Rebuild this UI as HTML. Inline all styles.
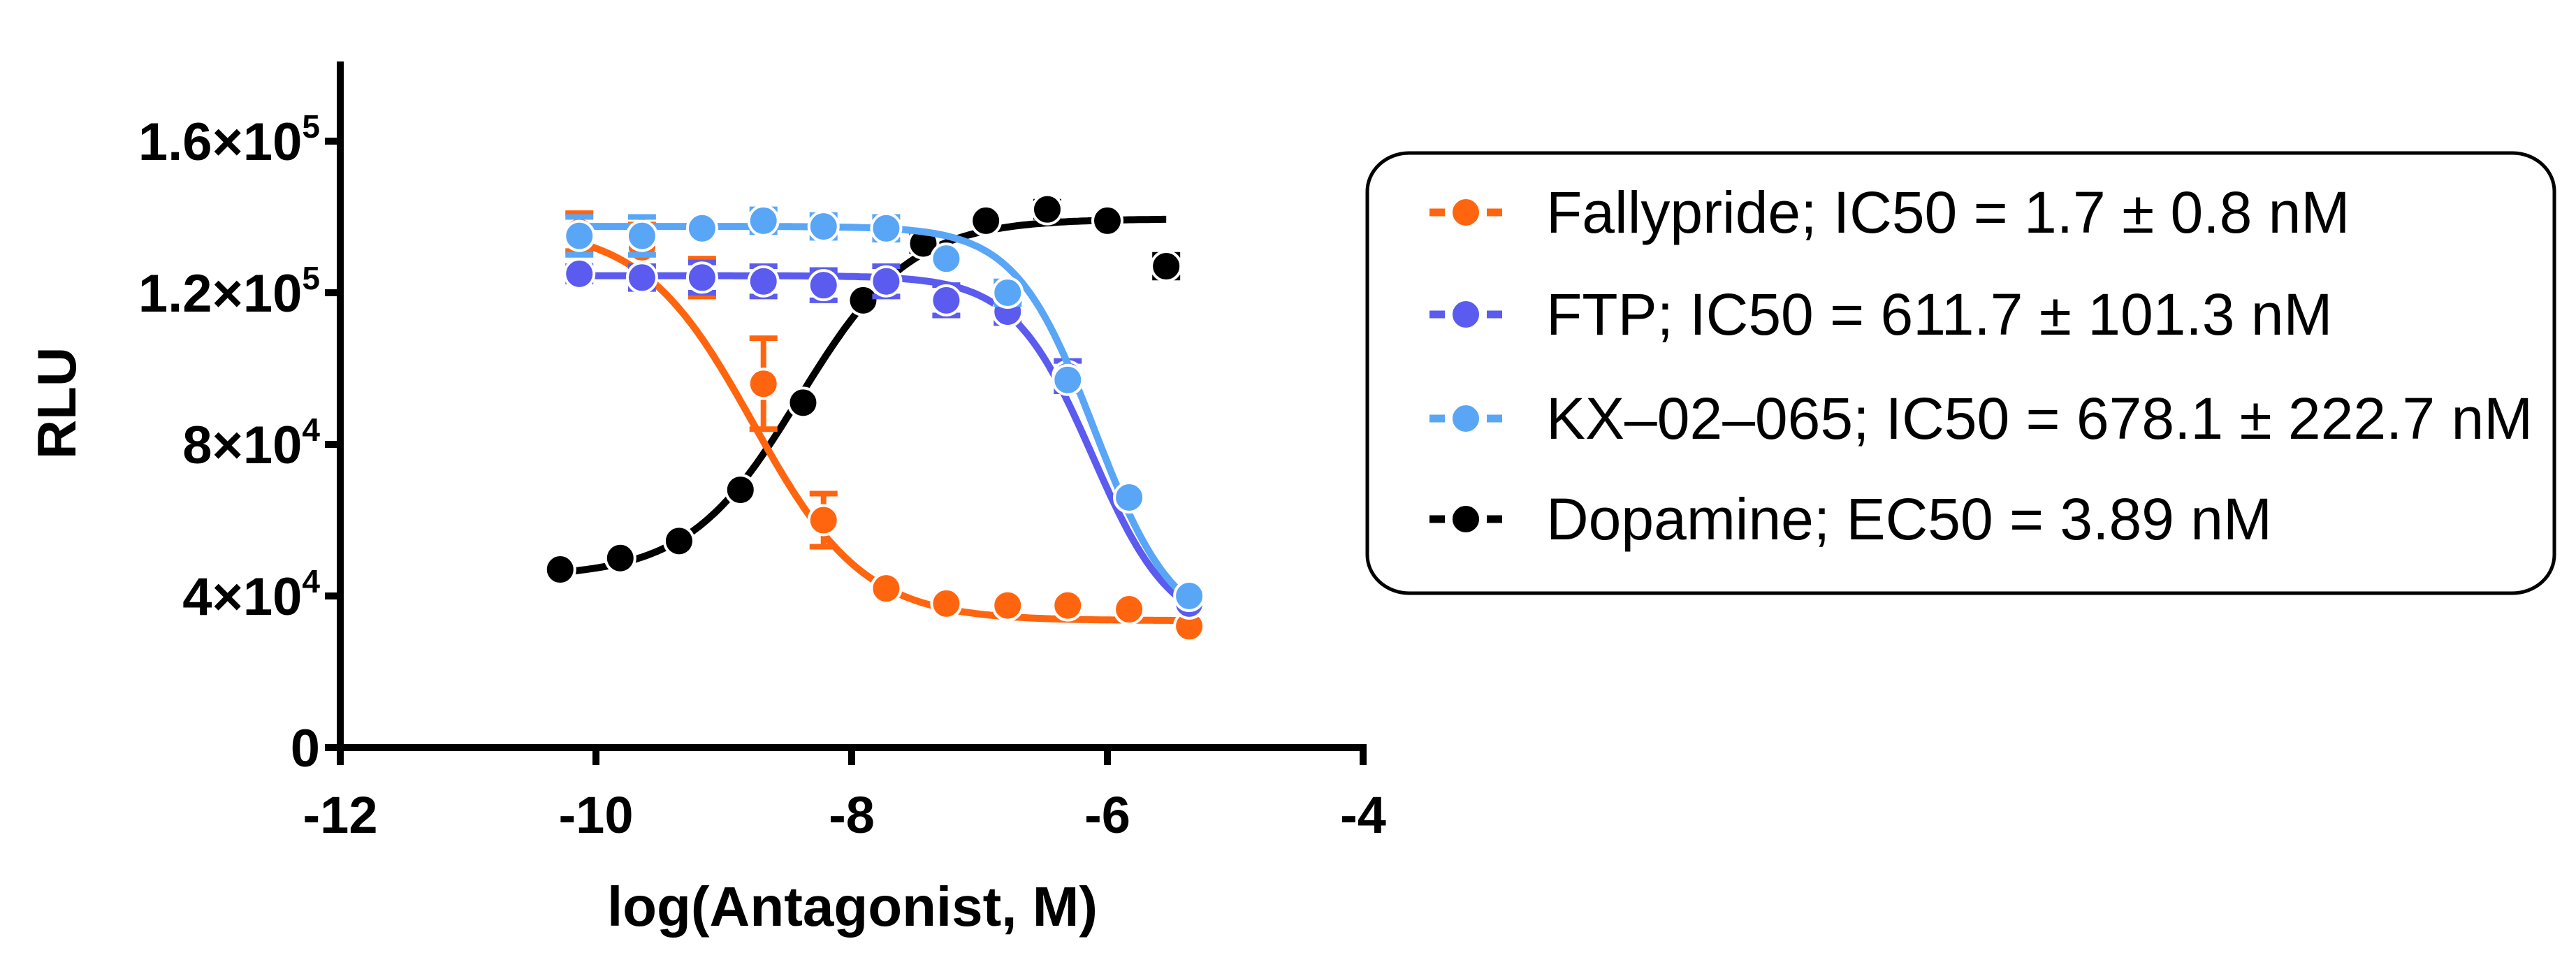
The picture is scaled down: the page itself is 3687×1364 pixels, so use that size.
<!DOCTYPE html>
<html><head><meta charset="utf-8"><style>
html,body{margin:0;padding:0;background:#fff;}
svg{display:block;font-family:"Liberation Sans",sans-serif;}
</style></head><body>
<svg id="chart" width="3687" height="1364" viewBox="0 0 3687 1364">
<g id="plot"></g>
<g id="axes"></g>
<g id="legend"></g>
</svg>
<script>
const xTicks=[-12,-10,-8,-6,-4];
const yTicks=[0,40000,80000,120000,160000];
const yTickLabels=["0","4×10^4","8×10^4","1.2×10^5","1.6×10^5"];
const seriesNames=["Fallypride; IC50 = 1.7 ± 0.8 nM","FTP; IC50 = 611.7 ± 101.3 nM","KX\u201302\u2013065; IC50 = 678.1 ± 222.7 nM","Dopamine; EC50 = 3.89 nM"];
const seriesColors=["#ff650f","#5b5bef","#5aa6f6","#000000"];
const xAnt=[-10.13,-9.64,-9.17,-8.69,-8.22,-7.73,-7.26,-6.78,-6.31,-5.83,-5.36];
const xDop=[-10.28,-9.81,-9.35,-8.87,-8.38,-7.91,-7.44,-6.95,-6.47,-6.0,-5.54];
const fallyY=[136000,132000,124000,96000,60000,42000,38000,37500,37500,36500,32000];
const fallyErr=[5000,6000,5000,12000,7000,0,0,0,0,0,0];
const ftpY=[125000,124000,124000,123000,122000,123000,118000,115000,98000,66000,38000];
const ftpErr=[2000,3000,4000,4000,4000,4000,4000,3000,4000,0,0];
const kxY=[135000,135000,137000,139000,137500,137000,129000,120000,97000,66000,40000];
const kxErr=[5000,5000,0,3000,3000,3000,0,3000,0,0,0];
const dopY=[47000,50000,54500,68000,91000,118000,133000,139000,142000,139000,127000];
const dopErr=[0,0,0,0,0,0,2000,0,2000,0,3000];
// 4PL fit params: bottom, top, logX50, hill
const fitFally=[33500,137500,-8.77,-1.0];
const fitFtp=[30000,124500,-6.12,-1.4];
const fitKx=[30000,137500,-6.10,-1.4];
const fitDop=[45000,139500,-8.41,1.0];

const X=v=>487+(v+12)*183;
const Y=v=>1070-v*(217/40000);
const NS="http://www.w3.org/2000/svg";
function mk(tag,attrs,parent){const e=document.createElementNS(NS,tag);for(const k in attrs)e.setAttribute(k,attrs[k]);parent.appendChild(e);return e;}
const plot=document.getElementById('plot'),axes=document.getElementById('axes'),legend=document.getElementById('legend');
function curve(p,x0,x1){let d="";for(let i=0;i<=200;i++){const x=x0+(x1-x0)*i/200;const y=p[0]+(p[1]-p[0])/(1+Math.pow(10,(p[2]-x)*p[3]));d+=(i?"L":"M")+X(x).toFixed(1)+","+Y(y).toFixed(1);}return d;}
const series=[[xAnt,fallyY,fallyErr,fitFally],[xAnt,ftpY,ftpErr,fitFtp],[xAnt,kxY,kxErr,fitKx],[xDop,dopY,dopErr,fitDop]];
const order=[3,0,1,2];
order.forEach(s=>{
 const [xs,ys,es,fit]=series[s];const c=seriesColors[s];
 const g=mk('g',{},plot);
 
 
 const path=mk('path',{d:curve(fit,xs[0],xs[xs.length-1]),fill:'none',stroke:c,'stroke-width':10},g);
 
 
 xs.forEach((x,i)=>{
  if(es[i]>0){
   const cx=X(x);
   const eb=mk('path',{d:`M${cx},${Y(ys[i]-es[i])}V${Y(ys[i]+es[i])}M${cx-20},${Y(ys[i]-es[i])}H${cx+20}M${cx-20},${Y(ys[i]+es[i])}H${cx+20}`,stroke:c,'stroke-width':8,fill:'none'},g);
   
   
  }
  const pt=mk('circle',{cx:X(x),cy:Y(ys[i]),r:21,fill:c,stroke:'#fff','stroke-width':4},g);
  
  
 });
});
// axes
const ya=mk('line',{x1:487,y1:88,x2:487,y2:1076,stroke:'#000','stroke-width':10},axes);

const xa=mk('line',{x1:468,y1:1070,x2:1956,y2:1070,stroke:'#000','stroke-width':10},axes);

xTicks.forEach(t=>{
 const tk=mk('line',{x1:X(t),y1:1070,x2:X(t),y2:1095,stroke:'#000','stroke-width':10},axes);
 
 const tl=mk('text',{x:X(t),y:1192,'font-size':74,'font-weight':'bold','text-anchor':'middle'},axes);
 tl.textContent=t; 
});
yTicks.forEach((t,i)=>{
 const tk=mk('line',{x1:465,y1:Y(t),x2:487,y2:Y(t),stroke:'#000','stroke-width':10},axes);
 
 const tl=mk('text',{x:458,y:Y(t)+27,'font-size':76,'font-weight':'bold','text-anchor':'end'},axes);
 
 const parts=yTickLabels[i].split('^');
 tl.textContent=parts[0];
 if(parts[1]){const sp=mk('tspan',{dy:-32,'font-size':46},tl);sp.textContent=parts[1];}
});
const xt=mk('text',{x:1220,y:1325,'font-size':80,'font-weight':'bold','text-anchor':'middle'},axes);
xt.textContent='log(Antagonist, M)';
const yt=mk('text',{x:0,y:0,'font-size':78,'font-weight':'bold','text-anchor':'middle',transform:'translate(108,577) rotate(-90)'},axes);
yt.textContent='RLU';
// legend
const box=mk('rect',{x:1957,y:219,width:1699,height:630,rx:60,ry:55,fill:'#fff',stroke:'#000','stroke-width':5},legend);

const ly=[304,450,599,743];
seriesNames.forEach((n,i)=>{
 const g=mk('g',{},legend);
 
 
 mk('path',{d:`M2046,${ly[i]}H2068M2128,${ly[i]}H2150`,stroke:seriesColors[i],'stroke-width':11},g);
 mk('circle',{cx:2098,cy:ly[i],r:21,fill:seriesColors[i],stroke:'#fff','stroke-width':4},g);
 const t=mk('text',{x:2213,y:ly[i]+29,'font-size':84},g);
 t.textContent=n;
});
</script>
</body></html>
